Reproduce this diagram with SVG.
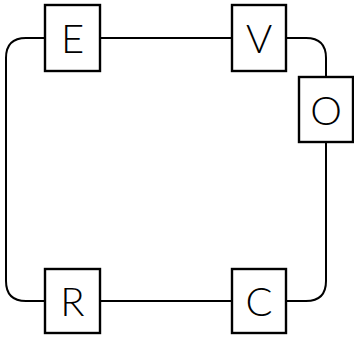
<svg xmlns="http://www.w3.org/2000/svg" width="354" height="339" viewBox="0 0 354 339">
<style>
.box{fill:#fff;stroke:#000;stroke-width:2.4}
.edge{fill:none;stroke:#000;stroke-width:2}
.lbl{font-family:Lato,"Liberation Sans",sans-serif;font-weight:300;font-size:40px;fill:#000;text-anchor:middle;dominant-baseline:central}
</style>
<rect width="354" height="339" fill="#fff"/>
<g id="connectors">
<path class="edge" d="M100,38 H232"/>
<path class="edge" d="M45,38 H26 Q6,38 6,58 V281 Q6,301 26,301 H45"/>
<path class="edge" d="M100,301 H232"/>
<path class="edge" d="M286,38 H306 Q326,38 326,58 V77"/>
<path class="edge" d="M326,142 V281 Q326,301 306,301 H286"/>
</g>
<g id="node-E"><rect class="box" x="45" y="5" width="55" height="66"/><text class="lbl" x="72.5" y="38">E</text></g>
<g id="node-V"><rect class="box" x="232" y="5" width="54" height="66"/><text class="lbl" x="259" y="38">V</text></g>
<g id="node-O"><rect class="box" x="299" y="77" width="54" height="65"/><text class="lbl" x="326" y="109.5">O</text></g>
<g id="node-R"><rect class="box" x="45" y="269" width="55" height="64"/><text class="lbl" x="72.5" y="301">R</text></g>
<g id="node-C"><rect class="box" x="232" y="269" width="54" height="64"/><text class="lbl" x="259" y="301">C</text></g>
</svg>
